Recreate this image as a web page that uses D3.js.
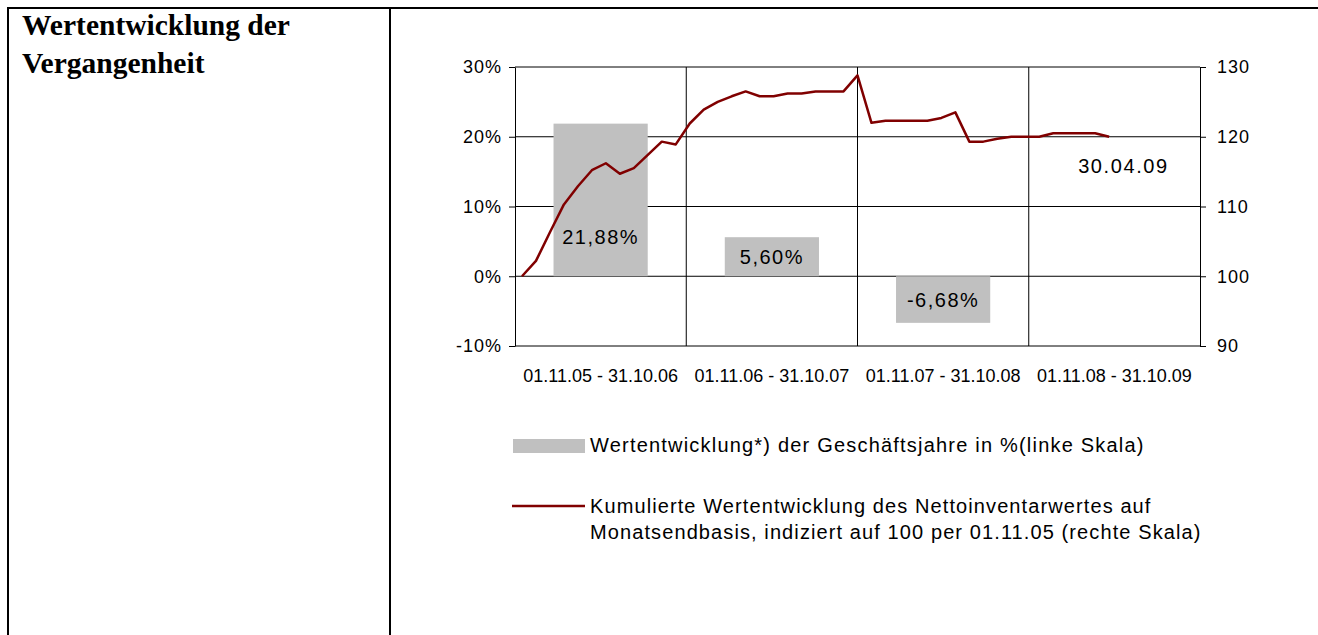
<!DOCTYPE html>
<html>
<head>
<meta charset="utf-8">
<script src="https://cdn.jsdelivr.net/npm/d3@7"></script>
<style>
    body { margin: 0; background: #fff; }
    svg text { font-family: "Liberation Sans", Arial, sans-serif; fill: #000; }
    .title { font-family: "Liberation Serif", "Times New Roman", serif; font-weight: bold; font-size: 29.5px; }
</style>
</head>
<body>
<div id="chart"></div>
<script>
// categories (business years) and yearly performance in %
const categories = ["01.11.05 - 31.10.06", "01.11.06 - 31.10.07", "01.11.07 - 31.10.08", "01.11.08 - 31.10.09"];
const yearlyPerf = [21.88, 5.60, -6.68, null];
const perfLabels = ["21,88%", "5,60%", "-6,68%", ""];

// cumulative index, month ends from 01.11.05 (=100) to 30.04.09
const indexValues = [
    100.0, 102.2, 106.3, 110.3, 112.9, 115.2, 116.2, 114.7, 115.5, 117.4, 119.3, 118.9,
    121.9, 123.9, 125.0, 125.8, 126.5, 125.8, 125.8, 126.2, 126.2, 126.5, 126.5, 126.5,
    128.8, 122.0, 122.3, 122.3, 122.3, 122.3, 122.7, 123.5, 119.3, 119.3, 119.7, 120.0,
    120.0, 120.0, 120.5, 120.5, 120.5, 120.5, 120.0
];
const monthSlots = 49; // 01.11.05 plus 48 month ends through 31.10.09
const lastDateLabel = "30.04.09";

const leftTicks = [-10, 0, 10, 20, 30];
const rightTicks = [90, 100, 110, 120, 130];

const legendBar = "Wertentwicklung*) der Geschäftsjahre in %(linke Skala)";
const legendLine = ["Kumulierte Wertentwicklung des Nettoinventarwertes auf",
    "Monatsendbasis, indiziert auf 100 per 01.11.05 (rechte Skala)"];

const W = 1318, H = 635;
const plot = { left: 515, right: 1200, top: 67, bottom: 346 };
const barColor = "#c0c0c0", lineColor = "#800000";

const svg = d3.select("#chart").append("svg")
    .attr("width", W)
    .attr("height", H);

// table frame
svg.append("path")
    .attr("d", `M8,${H} V8 H${W} M390,8 V${H}`)
    .attr("fill", "none")
    .attr("stroke", "#000")
    .attr("stroke-width", 2);

// title
svg.append("text").attr("class", "title").attr("x", 22).attr("y", 35).text("Wertentwicklung der");
svg.append("text").attr("class", "title").attr("x", 22).attr("y", 73).text("Vergangenheit");

// scales
const x = d3.scaleBand()
    .domain(categories)
    .range([plot.left, plot.right])
    .paddingInner(0.45)
    .paddingOuter(0.225);

const xMonth = d3.scalePoint()
    .domain(d3.range(monthSlots))
    .range([plot.left, plot.right])
    .padding(0.5);

const yLeft = d3.scaleLinear().domain([-10, 30]).range([plot.bottom, plot.top]);
const yRight = d3.scaleLinear().domain([90, 130]).range([plot.bottom, plot.top]);

// horizontal gridlines
svg.append("g")
    .selectAll("line")
    .data(leftTicks)
    .join("line")
    .attr("x1", plot.left).attr("x2", plot.right)
    .attr("y1", d => yLeft(d)).attr("y2", d => yLeft(d))
    .attr("stroke", "#000");

// vertical gridlines between categories
svg.append("g")
    .selectAll("line")
    .data(categories.slice(1))
    .join("line")
    .attr("x1", d => x(d) - x.step() * x.paddingInner() / 2)
    .attr("x2", d => x(d) - x.step() * x.paddingInner() / 2)
    .attr("y1", plot.top).attr("y2", plot.bottom)
    .attr("stroke", "#000");

// bars
const barData = categories.map((c, i) => ({ cat: c, value: yearlyPerf[i], label: perfLabels[i] }))
    .filter(d => d.value !== null);

svg.append("g")
    .selectAll("rect")
    .data(barData)
    .join("rect")
    .attr("x", d => x(d.cat))
    .attr("width", x.bandwidth())
    .attr("y", d => yLeft(Math.max(0, d.value)))
    .attr("height", d => Math.abs(yLeft(d.value) - yLeft(0)))
    .attr("fill", barColor);

// bar labels
svg.append("g")
    .selectAll("text")
    .data(barData)
    .join("text")
    .attr("x", d => x(d.cat) + x.bandwidth() / 2)
    .attr("y", d => yLeft(Math.sign(d.value) * Math.min(Math.abs(d.value) / 2, 5.6)))
    .attr("dy", "0.35em")
    .attr("text-anchor", "middle")
    .style("font-size", "20px")
    .style("letter-spacing", "1.5px")
    .text(d => d.label);

// cumulative line
const line = d3.line()
    .x((d, i) => xMonth(i))
    .y(d => yRight(d));

svg.append("path")
    .datum(indexValues)
    .attr("d", line)
    .attr("fill", "none")
    .attr("stroke", lineColor)
    .attr("stroke-width", 2.5)
    .attr("stroke-linejoin", "round");

// date label of last point
const lastI = indexValues.length - 1;
svg.append("text")
    .attr("x", xMonth(lastI) - 31)
    .attr("y", yRight(indexValues[lastI]) + 36)
    .style("font-size", "20px")
    .style("letter-spacing", "1.6px")
    .text(lastDateLabel);

// axes
const axisLeft = svg.append("g")
    .attr("transform", `translate(${plot.left},0)`)
    .call(d3.axisLeft(yLeft).tickValues(leftTicks).tickFormat(d => d + "%")
        .tickSize(6).tickSizeOuter(0).tickPadding(7));

const axisRight = svg.append("g")
    .attr("transform", `translate(${plot.right},0)`)
    .call(d3.axisRight(yRight).tickValues(rightTicks)
        .tickSize(6).tickSizeOuter(0).tickPadding(11));

[axisLeft, axisRight].forEach(a => {
    a.select(".domain").attr("stroke", "#000");
    a.selectAll(".tick line").attr("stroke", "#000");
    a.selectAll("text")
        .style("font-family", "'Liberation Sans', Arial, sans-serif")
        .style("font-size", "18px")
        .style("letter-spacing", "1px")
        .attr("fill", "#000");
});

// category labels
svg.append("g")
    .selectAll("text")
    .data(categories)
    .join("text")
    .attr("x", d => x(d) + x.bandwidth() / 2)
    .attr("y", 382)
    .attr("text-anchor", "middle")
    .style("font-size", "18px")
    .text(d => d);

// legend
const legend = svg.append("g");
legend.append("rect")
    .attr("x", 513).attr("y", 439)
    .attr("width", 72).attr("height", 14)
    .attr("fill", barColor);
legend.append("text")
    .attr("x", 590).attr("y", 452)
    .style("font-size", "20px")
    .style("letter-spacing", "1.2px")
    .text(legendBar);

legend.append("line")
    .attr("x1", 512).attr("x2", 585)
    .attr("y1", 506).attr("y2", 506)
    .attr("stroke", lineColor)
    .attr("stroke-width", 2.5);
legend.selectAll(".ltxt")
    .data(legendLine)
    .join("text")
    .attr("class", "ltxt")
    .attr("x", 590)
    .attr("y", (d, i) => 513 + i * 26)
    .style("font-size", "20px")
    .style("letter-spacing", "1.1px")
    .text(d => d);
</script>
</body>
</html>
